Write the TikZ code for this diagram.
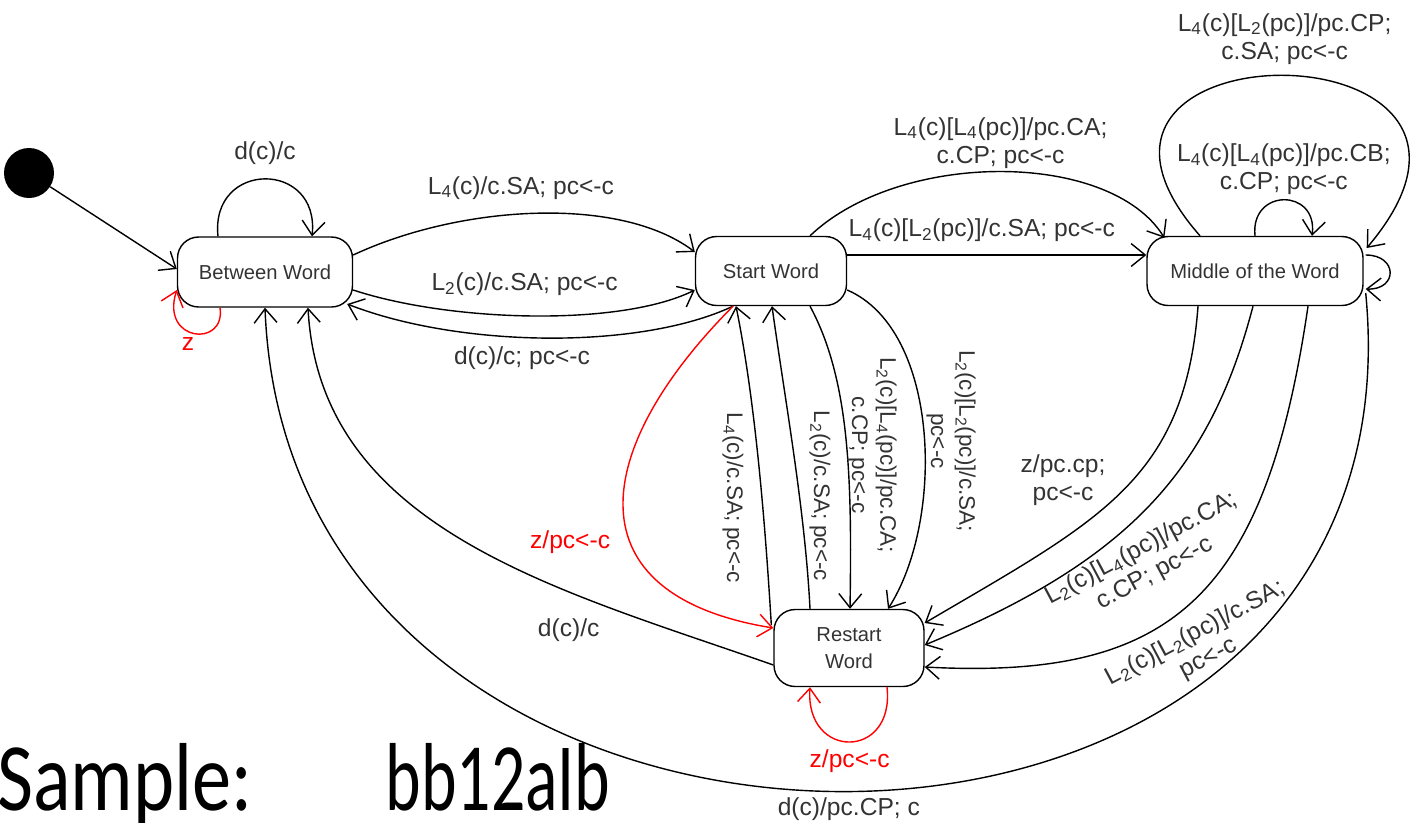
\documentclass[tikz,border=0pt]{standalone}
\usepackage{fontspec}
\setmainfont{Liberation Sans}
\newfontfamily\samplefont{Carlito}
\usetikzlibrary{arrows.meta, calc, positioning}
\newcommand{\Ls}[1]{L\textsubscript{#1}}
\tikzset{
  state/.style={
    draw,
    rounded corners=12pt,
    line width=0.8pt,
    align=center,
    font=\fontsize{11.5}{15.5}\selectfont,
    text=black!80},
  startdot/.style={circle, fill=black, minimum size=1cm, inner sep=0pt},
  trans/.style={
    ->,
    >={Straight Barb[length=8pt,width=13pt]},
    line width=0.8pt},
  lbl/.style={
    font=\fontsize{14}{16}\selectfont,
    inner sep=1pt,
    align=center,
    text=black!80},
  vlbl/.style={lbl, font=\fontsize{12.8}{16}\selectfont, rotate=-90},
  zlbl/.style={lbl, text=red}
  }

\begin{document}
\begin{tikzpicture}[x=0.02cm, y=-0.02cm]
    \useasboundingbox (0,0) rectangle (1425,822);
    % states
    \node[startdot] (init) at (29,173) {};
    \node[state, minimum width=3.5cm, minimum height=1.4cm] (bw) at (265,272) {Between Word};
    \node[state, minimum width=3.02cm, minimum height=1.38cm] (sw) at (771,271) {Start Word};
    \node[state, minimum width=4.32cm, minimum height=1.38cm] (mw) at (1255,271) {Middle of the Word};
    \node[state, minimum width=3cm, minimum height=1.54cm] (rw) at (849,648) {Restart\\Word};
    % between word
    \draw[trans] (init) -- ($(bw.west)+(0,-3)$);
    \draw[trans] ($(bw.north)+(-47,0)$) .. controls (210,160) and (320,160) .. ($(bw.north)+(47,0)$)
      node[lbl, pos=.5, above=7pt] {d(c)/c};
    \draw[trans, red] ($(bw.south)+(-45,0)$) .. controls (226,348) and (160,342) .. ($(bw.west)+(0,18)$)
      node[zlbl, pos=.58, below=2pt] {z};
    \draw[trans] ($(bw.east)+(0,-17)$) .. controls (460,205) and (620,195) .. ($(sw.west)+(0,-19)$)
      node[lbl, pos=.46, above=7pt] {\Ls4(c)/c.SA; pc<-c};
    \draw[trans] ($(bw.east)+(0,18)$) .. controls (450,322) and (620,327) .. ($(sw.west)+(0,19)$)
      node[lbl, pos=.48, above=10pt] {\Ls2(c)/c.SA; pc<-c};
    \draw[trans] ($(sw.south)+(-38,0)$) .. controls (640,350) and (460,348) .. ($(bw.east)+(-6,32)$)
      node[lbl, pos=.56, below=4pt] {d(c)/c; pc<-c};
    % start word
    \draw[trans] ($(sw.east)+(0,-16)$) -- ($(mw.west)+(0,-16)$)
      node[lbl, pos=.45, above=6pt] {\Ls4(c)[\Ls2(pc)]/c.SA; pc<-c};
    \draw[trans] ($(sw.north)+(39,0)$) .. controls (900,150) and (1110,150) .. ($(mw.north west)+(18,2)$)
      node[lbl, pos=.5, above=0.5pt] {\Ls4(c)[\Ls4(pc)]/pc.CA;\\c.CP; pc<-c};
    \draw[trans, red] ($(sw.south)+(-38,0)$) .. controls (590,450) and (570,595) .. ($(rw.west)+(0,-20)$)
      node[zlbl, pos=.6, left=10pt] {z/pc<-c};
    \draw[trans] ($(sw.south)+(39,0)$) .. controls (850,380) and (852,480) .. ($(rw.north)+(1,0)$);
    \draw[trans] ($(sw.east)+(0,19)$) .. controls (940,330) and (945,520) .. ($(rw.north)+(39,0)$);
    % middle of the word
    \draw[trans] ($(mw.north)+(-55,0)$) .. controls (1010,20) and (1560,20) .. ($(mw.east)+(3,-23)$)
      node[lbl, pos=.5, above=5pt] {\Ls4(c)[\Ls2(pc)]/pc.CP;\\c.SA; pc<-c};
    \draw[trans] (mw.north) .. controls (1250,188) and (1318,188) .. ($(mw.north)+(57,0)$)
      node[lbl, pos=.5, above=1.5pt] {\Ls4(c)[\Ls4(pc)]/pc.CB;\\c.CP; pc<-c};
    \draw[trans] ($(mw.east)+(2,-16)$) .. controls (1398,255) and (1398,290) .. ($(mw.east)+(2,18)$);
    \draw[trans] ($(mw.south)+(-57,0)$) .. controls (1185,480) and (1100,520) .. ($(rw.east)+(0,-25)$);
    \draw[trans] ($(mw.south)+(-2,0)$) .. controls (1210,470) and (1130,560) .. ($(rw.east)+(0,-3)$);
    \draw[trans] ($(mw.south)+(53,0)$) .. controls (1265,600) and (1170,680) .. ($(rw.east)+(0,19)$);
    \draw[trans] ($(mw.east)+(2,22)$) .. controls (1430,955) and (290,955) .. (bw.south)
      node[lbl, pos=.5, below=2pt] {d(c)/pc.CP; c};
    % restart word
    \draw[trans] ($(rw.west)+(-2,-23)$) .. controls (765,520) and (755,400) .. ($(sw.south)+(-35,0)$);
    \draw[trans] ($(rw.north)+(-39,0)$) .. controls (805,510) and (785,400) .. ($(sw.south)+(1,0)$);
    \draw[trans] ($(rw.west)+(0,17)$) .. controls (560,590) and (320,530) .. ($(bw.south)+(43,0)$)
      node[lbl, pos=.32, below=14pt] {d(c)/c};
    \draw[trans, red] ($(rw.south)+(38,0)$) .. controls (895,760) and (805,760) .. ($(rw.south)+(-39,0)$)
      node[zlbl, pos=.5, below=3pt] {z/pc<-c};
    % rotated labels
    \node[vlbl] (l4sa) at (733,498) {\Ls4(c)/c.SA; pc<-c};
    \node[vlbl] (l2sa) at (820,496) {\Ls2(c)/c.SA; pc<-c};
    \node[vlbl] (l2ca) at (872,455) {\Ls2(c)[\Ls4(pc)]/pc.CA;\\c.CP; pc<-c};
    \node[vlbl] (l2sb) at (951,441) {\Ls2(c)[\Ls2(pc)]/c.SA;\\pc<-c};
    \node[lbl] (zcp) at (1063,480) {z/pc.cp;\\pc<-c};
    \node[lbl, rotate=28] (l2cb) at (1148,561) {\Ls2(c)[\Ls4(pc)]/pc.CA;\\c.CP; pc<-c};
    \node[lbl, rotate=28] (l2sc) at (1202,646) {\Ls2(c)[\Ls2(pc)]/c.SA;\\pc<-c};
    % sample
    \node[anchor=base west, inner sep=0pt, font=\samplefont\fontsize{55}{60}\selectfont] (sample) at (-3,810)
      {\scalebox{0.81}[1]{Sample:}\hspace{76pt}\scalebox{0.7}[1]{bb12aIb}};
\end{tikzpicture}
\end{document}
